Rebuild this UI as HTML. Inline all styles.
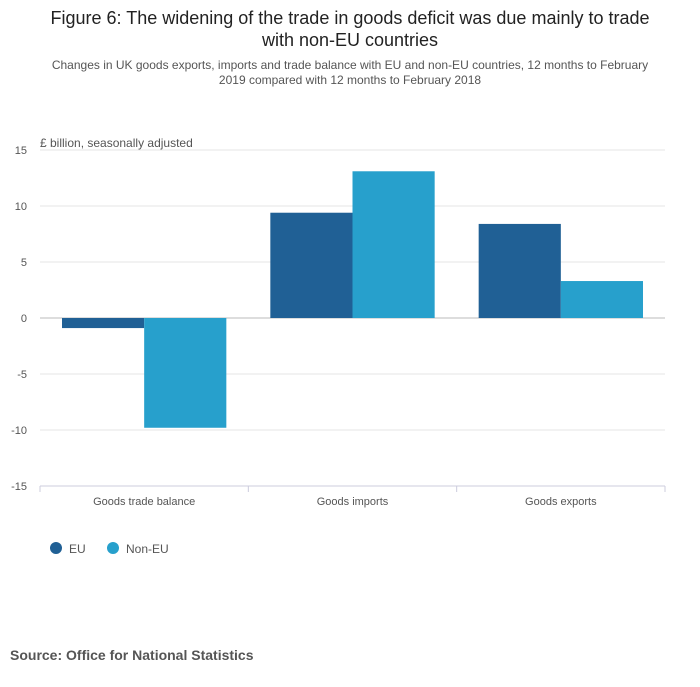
<!DOCTYPE html>
<html><head><meta charset="utf-8"><style>
body{margin:0;width:700px;height:682px;background:#fff;font-family:"Liberation Sans",sans-serif;overflow:hidden}
</style></head><body>
<svg width="700" height="682" xmlns="http://www.w3.org/2000/svg">
<text x="350" y="24" text-anchor="middle" font-size="18" fill="#222">Figure 6: The widening of the trade in goods deficit was due mainly to trade</text>
<text x="350" y="46" text-anchor="middle" font-size="18" fill="#222">with non-EU countries</text>
<text x="350" y="69" text-anchor="middle" font-size="12" fill="#555">Changes in UK goods exports, imports and trade balance with EU and non-EU countries, 12 months to February</text>
<text x="350" y="84" text-anchor="middle" font-size="12" fill="#555">2019 compared with 12 months to February 2018</text>
<text x="40" y="147" font-size="12" fill="#555">£ billion, seasonally adjusted</text>
<g id="grid"></g><g id="bars"></g><g id="xaxis"></g>
<g>
<circle cx="56" cy="548" r="6" fill="#206095"/>
<text x="69" y="553" font-size="12" fill="#555">EU</text>
<circle cx="113" cy="548" r="6" fill="#27a0cc"/>
<text x="126" y="553" font-size="12" fill="#555">Non-EU</text>
</g>
<text x="10" y="660" font-size="14" font-weight="bold" fill="#555">Source: Office for National Statistics</text>
</svg>
<script>
const categories=["Goods trade balance","Goods imports","Goods exports"];
const euValues=[-0.9,9.4,8.4];
const nonEuValues=[-9.8,13.1,3.3];
const yTicks=[15,10,5,0,-5,-10,-15];
const NS="http://www.w3.org/2000/svg";
const x0=40,x1=665,yTop=150,yBot=486,ymin=-15,ymax=15;
function y(v){return yTop+(ymax-v)/(ymax-ymin)*(yBot-yTop);}
const bw=(x1-x0)/categories.length;
function mk(t,a,p){const e=document.createElementNS(NS,t);for(const k in a)e.setAttribute(k,a[k]);p.appendChild(e);return e;}
const grid=document.getElementById('grid'),bars=document.getElementById('bars'),xa=document.getElementById('xaxis');
yTicks.forEach(t=>{
 const l=mk('line',{x1:x0,x2:x1,y1:y(t),y2:y(t),stroke:t===0?'#bbb':'#e4e4e4'},grid);
 
 
 const tx=mk('text',{x:27,y:y(t)+4,'text-anchor':'end','font-size':11,fill:'#555'},grid);
 tx.textContent=t;
 
 
});
const al=mk('line',{x1:x0,x2:x1,y1:yBot,y2:yBot,stroke:'#ccd'},xa);


for(let i=0;i<=categories.length;i++){const tk=mk('line',{x1:x0+i*bw,x2:x0+i*bw,y1:yBot,y2:yBot+6,stroke:'#ccd'},xa);
 
 }
const pad=22,barW=(bw-2*pad)/2;
categories.forEach((c,i)=>{
 const gx=x0+i*bw+pad;
 [[euValues[i],'#206095','eu'],[nonEuValues[i],'#27a0cc','non-eu']].forEach(([v,col,n],j)=>{
  const r=mk('rect',{x:gx+j*barW,y:Math.min(y(v),y(0)),width:barW,height:Math.abs(y(v)-y(0)),fill:col},bars);
  
  
 });
 const t=mk('text',{x:x0+i*bw+bw/2,y:505,'text-anchor':'middle','font-size':11,fill:'#555'},xa);
 t.textContent=c;
 
 
});
</script>
</body></html>
